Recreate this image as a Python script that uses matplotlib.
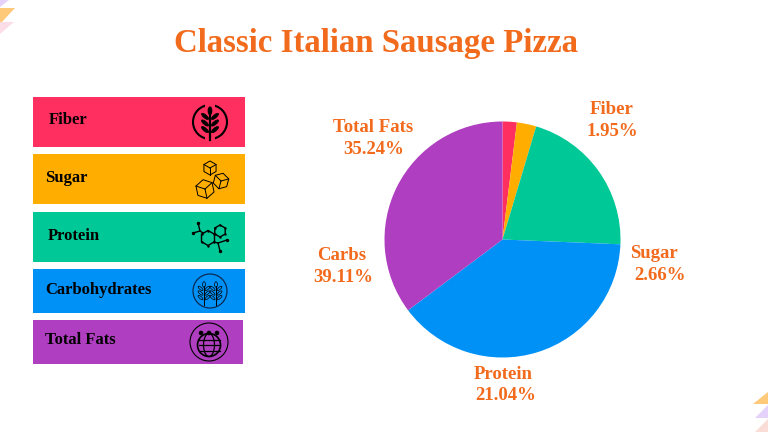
import numpy as np
import matplotlib
matplotlib.use('Agg')
import matplotlib.pyplot as plt
from matplotlib.patches import Rectangle, Circle, Polygon, Ellipse

plt.rcParams['font.family'] = ['Liberation Serif', 'DejaVu Serif']

title = 'Classic Italian Sausage Pizza'
orange_text = '#F26A1C'
names = ['Fiber', 'Sugar', 'Protein', 'Carbs', 'Total Fats']
card_names = ['Fiber', 'Sugar', 'Protein', 'Carbohydrates', 'Total Fats']
values = [1.95, 2.66, 21.04, 39.11, 35.24]
colors = ['#FF2F5F', '#FFAE00', '#00C896', '#0091F7', '#AF3FC0']

W, H = 768, 432
fig = plt.figure(figsize=(W / 100, H / 100), dpi=100)

# overlay in pixel coords, y pointing down like the screenshot
bg = fig.add_axes([0, 0, 1, 1])
bg.set_xlim(0, W)
bg.set_ylim(H, 0)
bg.axis('off')

# corner decoration
for pts, c in [
    ([(0, 0), (9, 0), (0, 7)], '#E4D2FB'),
    ([(0, 8), (15, 8), (0, 24)], '#FFC97A'),
    ([(0, 22), (14, 22), (0, 34)], '#FBDDE8'),
    ([(753, 404), (768, 392), (768, 404)], '#FFC97A'),
    ([(755, 418), (768, 405), (768, 418)], '#E4D2FB'),
    ([(755, 432), (768, 419), (768, 432)], '#FBDDD8'),
]:
    bg.add_patch(Polygon(pts, closed=True, fc=c, ec='none'))

bg.text(375.5, 43.5, title, color=orange_text, fontsize=23.7, fontweight='bold',
        ha='center', va='center')


def wheat(cx, cy, h, lw=1.0, filled=True, pairs=3):
    bg.plot([cx, cx], [cy - h * 0.3, cy + h / 2], color='black', lw=lw)
    for t in np.linspace(-0.2, 0.2, pairs):
        for side in (-1, 1):
            bg.add_patch(Ellipse((cx + side * h * 0.15, cy + t * h), h * 0.27, h * 0.1,
                                 angle=-side * 40, fc='black' if filled else 'none',
                                 ec='black', lw=0.5))
    bg.add_patch(Ellipse((cx, cy - h * 0.37), h * 0.12, h * 0.24,
                         fc='black' if filled else 'none', ec='black', lw=0.5))


def cube(cx, cy, r, rot=0):
    ang = np.radians(np.arange(30, 390, 60) + rot)
    x = cx + r * np.cos(ang)
    y = cy + r * np.sin(ang)
    bg.add_patch(Polygon(np.c_[x, y], closed=True, fc='none', ec='black', lw=0.7))
    for i in (1, 3, 5):
        bg.plot([cx, x[i]], [cy, y[i]], color='black', lw=0.7)


def hexagon(cx, cy, r):
    ang = np.radians(np.arange(30, 390, 60))
    x = cx + r * np.cos(ang)
    y = cy + r * np.sin(ang)
    bg.add_patch(Polygon(np.c_[x, y], closed=True, fc='none', ec='black', lw=1.0))
    bg.scatter(x, y, s=3, c='black', zorder=4, linewidths=0)


def icon_fiber():
    bg.add_patch(Circle((210, 122), 17, fc='none', ec='black', lw=1.5))
    bg.add_patch(Rectangle((205, 103), 10, 4, fc=colors[0], ec='none'))
    bg.add_patch(Rectangle((205, 137), 10, 4, fc=colors[0], ec='none'))
    wheat(210, 123, 33, lw=1.6)


def icon_sugar():
    cube(210, 168, 7)
    cube(221, 181, 8, rot=15)
    cube(205, 189, 9.5, rot=-12)


def icon_protein():
    hexagon(208, 238, 7.5)
    hexagon(220, 231, 6)
    for p, q in [((203, 233), (200, 231)), ((200, 231), (198, 223)),
                 ((200, 231), (193, 233)), ((214, 242), (218, 243)),
                 ((218, 243), (220, 251)), ((218, 243), (227, 240))]:
        bg.plot(*zip(p, q), color='black', lw=1.0)
    bg.scatter([198, 193, 220, 227], [223, 233, 251, 240], s=6, c='black', linewidths=0)


def icon_carbs():
    bg.add_patch(Circle((210, 291), 17, fc='none', ec='#0A2A55', lw=0.9))
    wheat(204, 293, 23, lw=0.7, filled=False)
    wheat(216, 293, 23, lw=0.7, filled=False)


def icon_fats():
    bg.add_patch(Circle((209, 342), 19, fc='none', ec='black', lw=0.8))
    bg.add_patch(Circle((209, 345), 11.5, fc='none', ec='black', lw=1.2))
    bg.add_patch(Ellipse((209, 345), 11, 23, fc='none', ec='black', lw=0.9))
    for dy in (-5.5, 0, 5.5):
        bg.plot([198.5, 219.5], [345 + dy] * 2, color='black', lw=0.9)
    for dx in (-8, 0, 8):
        bg.add_patch(Circle((209 + dx, 333), 2.3, fc='black', ec='none'))


# cards: left, top, right, bottom, label x, label y
cards = [(33, 97, 245, 147, 49, 120.5), (33, 154, 245, 204, 45.5, 177.5),
         (33, 212, 245, 262, 48, 236.5), (33, 269, 245, 313, 45, 289.5),
         (33, 320, 243, 364, 45, 340.5)]
for (x0, y0, x1, y1, tx, ty), name, c in zip(cards, card_names, colors):
    bg.add_patch(Rectangle((x0, y0), x1 - x0, y1 - y0, fc=c, ec='none'))
    bg.text(tx, ty, name, color='black', fontsize=12, fontweight='bold',
            ha='left', va='center')

for draw in (icon_fiber, icon_sugar, icon_protein, icon_carbs, icon_fats):
    draw()

# pie, radius 118 px centred at (502.5, 239.5)
r_px = 118
pie_ax = fig.add_axes([(502.5 - r_px) / W, 1 - (239.5 + r_px) / H, 2 * r_px / W, 2 * r_px / H])
pie_ax.pie(values, colors=colors, startangle=90, counterclock=False, radius=1,
           wedgeprops={'linewidth': 0})
pie_ax.set_xlim(-1, 1)
pie_ax.set_ylim(-1, 1)

# the two lines of each label are not quite centred on each other in the reference
name_pos = [(612, 110), (654, 253), (503, 374.5), (341.5, 255), (373, 127.5)]
pct_pos = [(612, 132), (660, 275), (505.5, 396), (343.5, 277), (373.5, 150)]
for np_, pp, name, v in zip(name_pos, pct_pos, names, values):
    bg.text(*np_, name, color=orange_text, fontsize=13.5, fontweight='bold',
            ha='center', va='center')
    bg.text(*pp, f'{v:.2f}%', color=orange_text, fontsize=13.5, fontweight='bold',
            ha='center', va='center')

fig.savefig('out.png', dpi=100)
